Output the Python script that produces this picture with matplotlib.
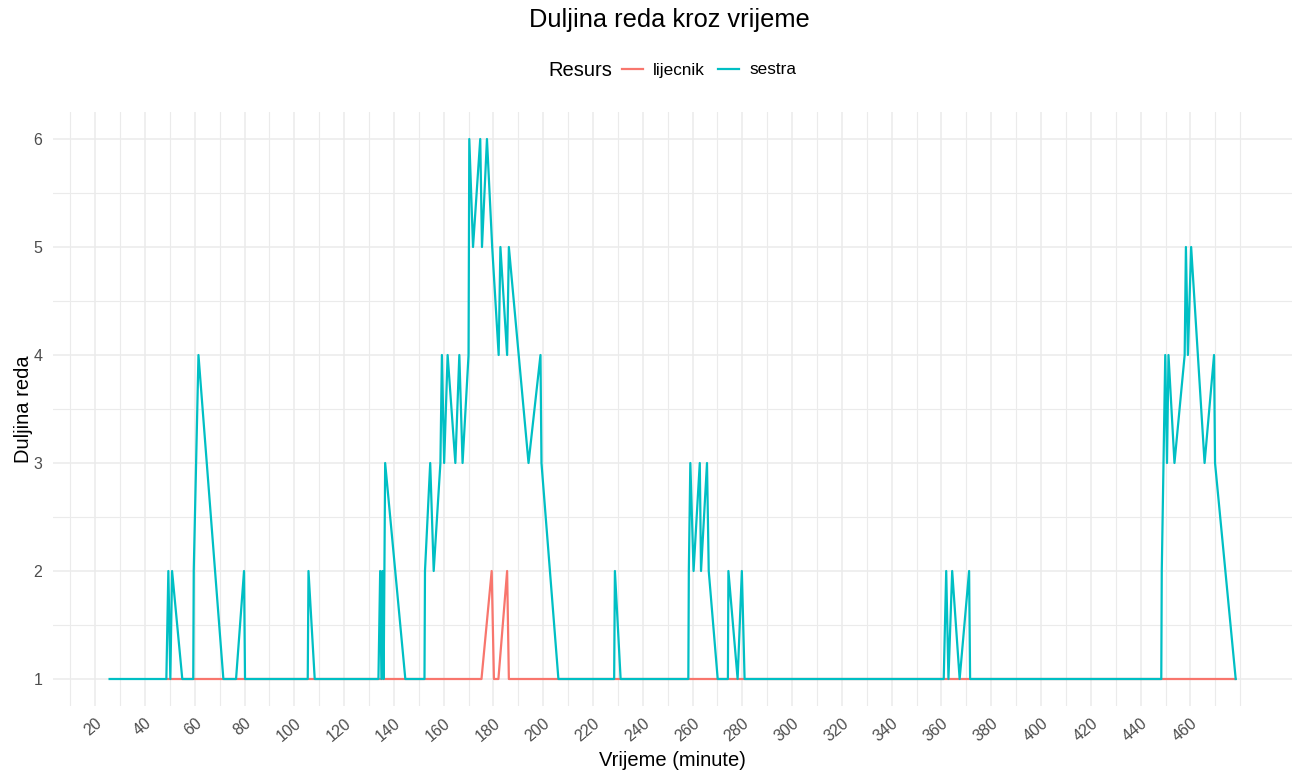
import numpy as np
import matplotlib.pyplot as plt

plt.rcParams['font.family'] = ['Liberation Sans', 'DejaVu Sans']

# duljina reda za sestru (vrijeme u minutama, broj u redu)
sestra_t = [25.8, 48.6, 49.4, 50.2, 50.9, 55.0, 59.4, 59.6, 61.5, 71.5,
            76.6, 79.8, 80.2, 105.4, 105.7, 108.2,
            133.8, 134.5, 135.0, 135.4, 135.9, 136.5, 144.6,
            152.3, 152.5, 154.6, 156.0, 158.7, 159.3, 160.2, 161.6, 164.7,
            166.3, 167.6, 170.0, 170.3, 171.8, 174.7, 175.4, 177.4, 179.5,
            182.1, 182.8, 185.5, 186.2, 194.1, 198.9, 199.3, 206.1,
            228.5, 228.8, 231.1,
            258.3, 258.5, 259.1, 260.4, 262.9, 263.4, 265.8, 266.5, 270.1,
            274.2, 274.4, 278.1, 279.8, 280.9,
            360.9, 361.9, 362.8, 364.3, 367.3, 371.1, 371.5,
            448.3, 448.5, 449.2, 449.9, 450.6, 451.2, 453.6, 457.7, 458.2,
            459.0, 460.3, 465.7, 469.5, 469.9, 478.2]
sestra_n = [1, 1, 2, 1, 2, 1, 1, 2, 4, 1,
            1, 2, 1, 1, 2, 1,
            1, 2, 1, 2, 1, 3, 1,
            1, 2, 3, 2, 3, 4, 3, 4, 3,
            4, 3, 4, 6, 5, 6, 5, 6, 5,
            4, 5, 4, 5, 3, 4, 3, 1,
            1, 2, 1,
            1, 2, 3, 2, 3, 2, 3, 2, 1,
            1, 2, 1, 2, 1,
            1, 2, 1, 2, 1, 2, 1,
            1, 2, 3, 4, 3, 4, 3, 4, 5,
            4, 5, 3, 4, 3, 1]

# duljina reda za lijecnika
lijecnik_t = [49.0, 175.2, 179.3, 180.2, 182.0, 185.5, 186.2, 478.2]
lijecnik_n = [1, 1, 2, 1, 1, 2, 1, 1]

x_breaks = list(range(20, 461, 20))
y_breaks = [1, 2, 3, 4, 5, 6]

fig = plt.figure(figsize=(12.98, 7.76), dpi=100)
W, H = 1298, 776
ax = fig.add_axes([53.3 / W, 1 - 706 / H, (1292 - 53.3) / W, (706 - 112) / H])

ax.plot(lijecnik_t, lijecnik_n, color='#F8766D', lw=1.6, label='lijecnik')
ax.plot(sestra_t, sestra_n, color='#00BFC4', lw=1.6, label='sestra')

# ggplot-ov nacin: 5% prosirenja
t_all = np.concatenate([sestra_t, lijecnik_t])
n_all = np.concatenate([sestra_n, lijecnik_n])
dx = 0.05 * (t_all.max() - t_all.min())
dy = 0.05 * (n_all.max() - n_all.min())
ax.set_xlim(t_all.min() - dx, t_all.max() + dx)
ax.set_ylim(n_all.min() - dy, n_all.max() + dy)

ax.set_xticks(x_breaks)
ax.set_xticks([v for v in range(10, 481, 10) if v not in x_breaks], minor=True)
ax.set_yticks(y_breaks)
ax.set_yticks([1.5, 2.5, 3.5, 4.5, 5.5], minor=True)
ax.grid(which='major', color='#EBEBEB', lw=1.1)
ax.grid(which='minor', color='#EBEBEB', lw=0.8)
ax.set_axisbelow(True)
for s in ax.spines.values():
    s.set_visible(False)
ax.tick_params(which='both', length=0, labelsize=11.5, labelcolor='#4D4D4D')
ax.tick_params(axis='x', pad=7)
ax.tick_params(axis='y', pad=8)
plt.setp(ax.get_xticklabels(), rotation=40, ha='right', rotation_mode='anchor')

ax.set_xlabel('Vrijeme (minute)', fontsize=14.5, labelpad=5)
ax.set_ylabel('Duljina reda', fontsize=14.5, labelpad=0)

fig.text(0.516, 1 - 20 / H, 'Duljina reda kroz vrijeme', fontsize=18.3,
         ha='center', va='center')
fig.text(612 / W, 1 - 70 / H, 'Resurs', fontsize=14.5, ha='right', va='center')
fig.legend(loc='center left', bbox_to_anchor=(622 / W, 1 - 70 / H), ncol=2,
           frameon=False, fontsize=12.3, handlelength=1.2, handletextpad=0.6,
           columnspacing=0.8, borderpad=0, borderaxespad=0)

fig.savefig('out.png', dpi=100)
